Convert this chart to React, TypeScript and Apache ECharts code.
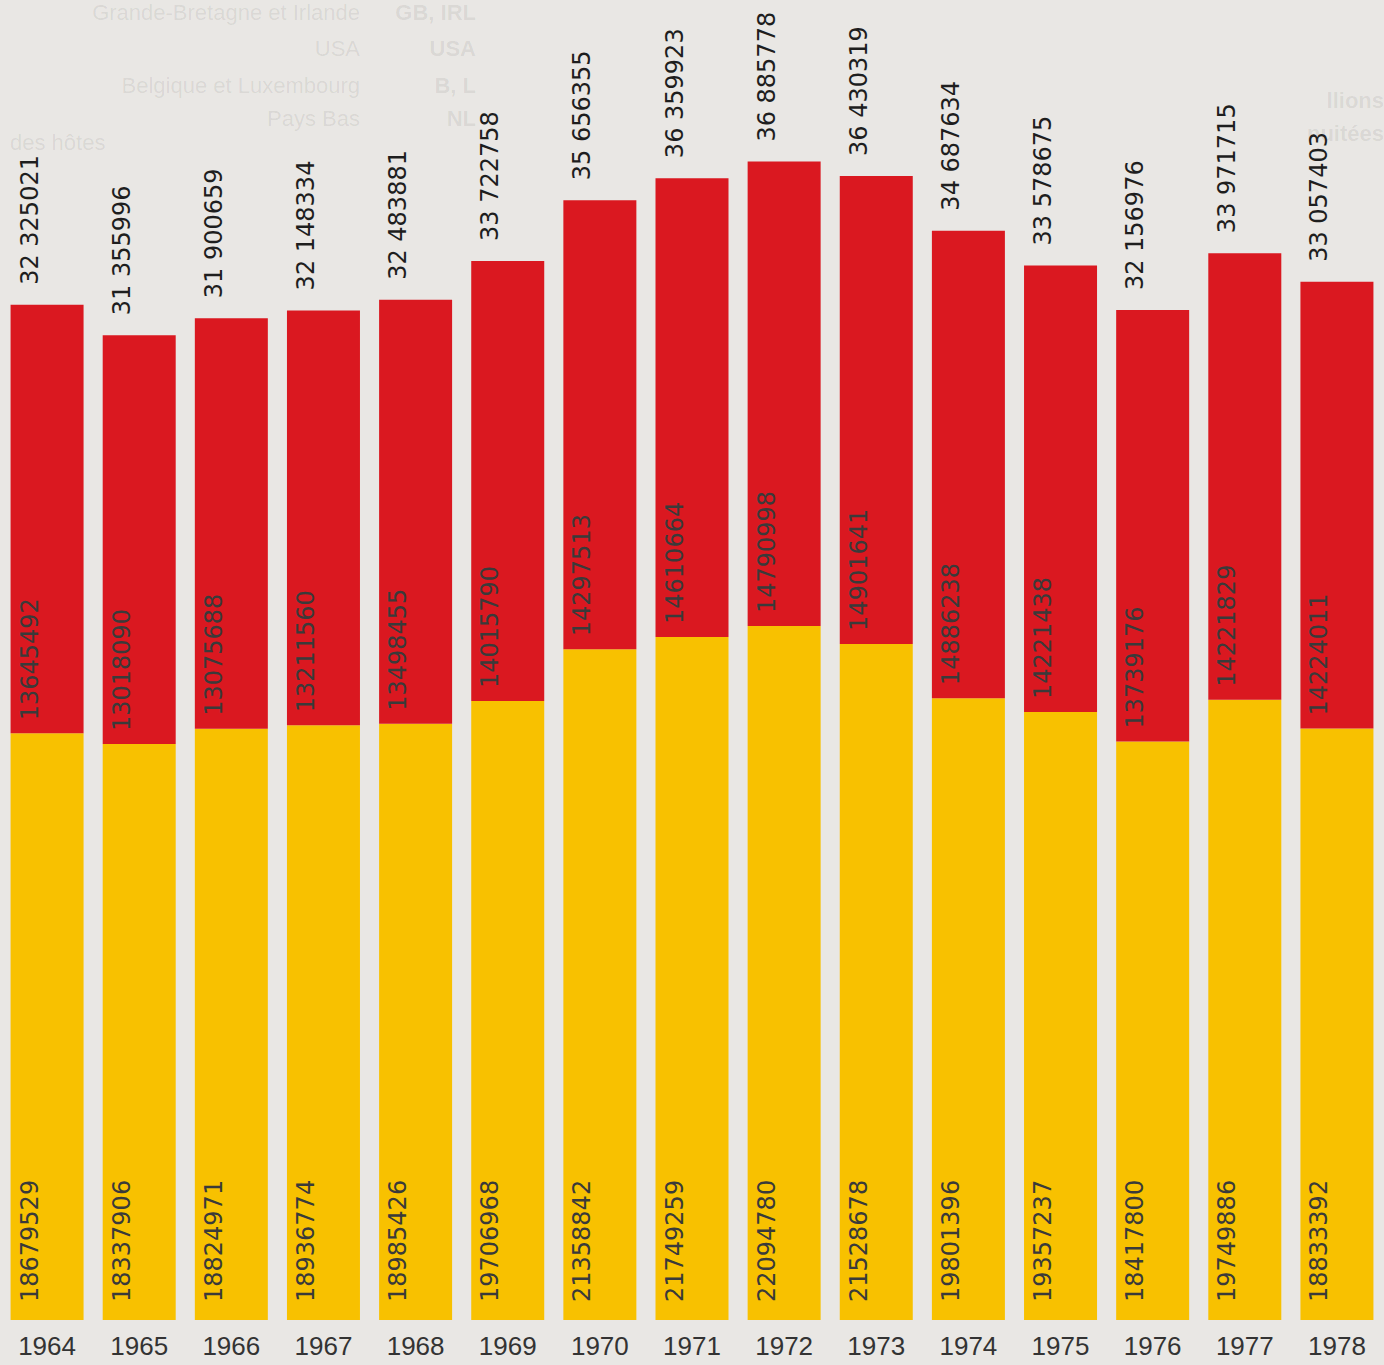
import React, { useEffect, useRef } from "react";
import * as echarts from "echarts";

const years = ["1964", "1965", "1966", "1967", "1968", "1969", "1970", "1971", "1972", "1973", "1974", "1975", "1976", "1977", "1978"];
const yellowValues = [18679529, 18337906, 18824971, 18936774, 18985426, 19706968, 21358842, 21749259, 22094780, 21528678, 19801396, 19357237, 18417800, 19749886, 18833392];
const redValues = [13645492, 13018090, 13075688, 13211560, 13498455, 14015790, 14297513, 14610664, 14790998, 14901641, 14886238, 14221438, 13739176, 14221829, 14224011];
const totalValues = [32325021, 31355996, 31900659, 32148334, 32483881, 33722758, 35656355, 36359923, 36885778, 36430319, 34687634, 33578675, 32156976, 33971715, 33057403];

const ghostLeft = ["Grande-Bretagne et Irlande", "USA", "Belgique et Luxembourg", "Pays Bas"];
const ghostAbbr = ["GB, IRL", "USA", "B, L", "NL"];

const BG = "#e9e7e4";
const RED = "#da1820";
const YELLOW = "#f8c100";
const VALUE_FONT = "DejaVu Sans";

const fmtTotal = (v: number) => {
  const s = String(v);
  return s.slice(0, s.length - 6) + " " + s.slice(s.length - 6);
};

export default function App() {
  const ref = useRef<HTMLDivElement>(null);
  useEffect(() => {
    if (!ref.current) return;
    const chart = echarts.init(ref.current, null, { renderer: "svg" });
    const ghostColor = "rgba(0,0,0,0.075)";
    const ghostRows = [12, 48, 85, 118];
    const graphics: any[] = [];
    ghostLeft.forEach((t, i) => {
      graphics.push({
        type: "text", x: 360, y: ghostRows[i], silent: true,
        style: { text: t, fill: ghostColor, font: '22px "Liberation Sans"', align: "right", textAlign: "right", verticalAlign: "middle", textVerticalAlign: "middle" },
      });
      graphics.push({
        type: "text", x: 476, y: ghostRows[i], silent: true,
        style: { text: ghostAbbr[i], fill: ghostColor, font: 'bold 22px "Liberation Sans"', align: "right", textAlign: "right", verticalAlign: "middle", textVerticalAlign: "middle" },
      });
    });
    graphics.push({
      type: "text", x: 10, y: 142, silent: true,
      style: { text: "des hôtes", fill: ghostColor, font: '22px "Liberation Sans"', align: "left", textAlign: "left", verticalAlign: "middle", textVerticalAlign: "middle" },
    });
    graphics.push({
      type: "text", x: 1384, y: 100, silent: true,
      style: { text: "llions", fill: ghostColor, font: 'bold 22px "Liberation Sans"', align: "right", textAlign: "right", verticalAlign: "middle", textVerticalAlign: "middle" },
    });
    graphics.push({
      type: "text", x: 1384, y: 133, silent: true,
      style: { text: "nuitées", fill: ghostColor, font: 'bold 22px "Liberation Sans"', align: "right", textAlign: "right", verticalAlign: "middle", textVerticalAlign: "middle" },
    });

    const inLabel = (gap: number) => ({
      show: true,
      position: [19, "100%"],
      rotate: 90,
      align: "left",
      verticalAlign: "middle",
      padding: [0, 0, 0, gap],
      color: "#3a3a3a",
      fontFamily: VALUE_FONT,
      fontSize: 24,
    });

    chart.setOption({
      animation: false,
      backgroundColor: BG,
      graphic: graphics,
      grid: { left: 1, right: 1, top: 1, bottom: 45, containLabel: false },
      xAxis: {
        type: "category",
        data: years,
        axisLine: { show: false },
        axisTick: { show: false },
        axisLabel: { color: "#333", fontFamily: "Liberation Sans", fontSize: 26, margin: 13 },
      },
      yAxis: { type: "value", min: 0, max: 42000000, show: false, splitLine: { show: false } },
      series: [
        {
          type: "bar", stack: "s", data: yellowValues, barWidth: 73,
          itemStyle: { color: YELLOW },
          label: { ...inLabel(18), formatter: (p: any) => String(yellowValues[p.dataIndex]) },
        },
        {
          type: "bar", stack: "s", data: redValues, barWidth: 73,
          itemStyle: { color: RED },
          label: { ...inLabel(13), formatter: (p: any) => String(redValues[p.dataIndex]) },
        },
        {
          type: "bar", stack: "s", data: totalValues.map(() => 0), barWidth: 73,
          itemStyle: { color: "rgba(0,0,0,0)" },
          label: {
            show: true,
            position: [19, 0],
            rotate: 90,
            align: "left",
            verticalAlign: "middle",
            padding: [0, 0, 0, 20],
            color: "#1e1e1e",
            fontFamily: VALUE_FONT,
            fontSize: 24,
            formatter: (p: any) => fmtTotal(totalValues[p.dataIndex]),
          },
        },
      ],
    });
    return () => chart.dispose();
  }, []);
  return (
    <div
      ref={ref}
      style={{ position: "absolute", left: 0, top: 0, width: 1384, height: 1365, background: BG }}
    />
  );
}
